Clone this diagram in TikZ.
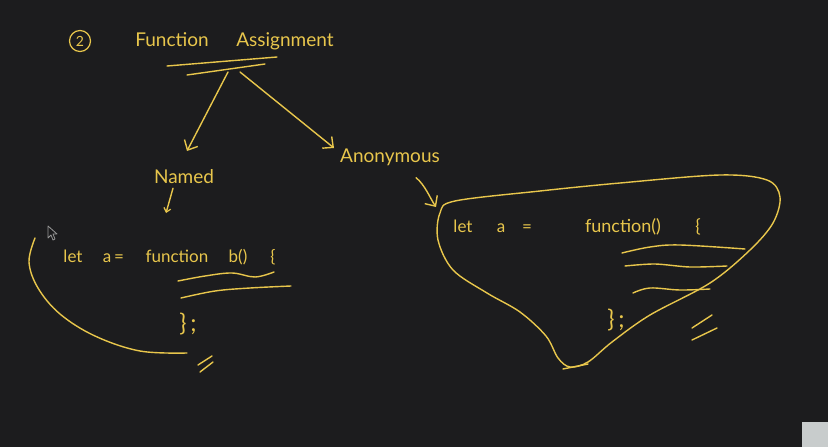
\documentclass[tikz,border=0pt]{standalone}
\usepackage{fontspec}
\setmainfont{Lato}
\usetikzlibrary{arrows.meta}
\definecolor{bg}{RGB}{28,28,30}
\definecolor{ink}{RGB}{232,198,76}
\definecolor{cursorgrey}{RGB}{150,150,150}
\definecolor{boxgrey}{RGB}{200,204,204}
\begin{document}
\begin{tikzpicture}[x=1pt,y=-1pt,
  inkline/.style={draw=ink,line width=1.4pt,line cap=round,line join=round},
  hand/.style={text=ink,inner sep=0pt,font=\fontsize{17}{20}\selectfont},
  big/.style={text=ink,inner sep=0pt,font=\fontsize{19}{22}\selectfont},
  barb/.style={-{Straight Barb[length=8pt,width=15pt,line width=1.4pt]}},
  smallbarb/.style={-{Straight Barb[length=4pt,width=7pt,line width=1.2pt]}}]
\fill[bg] (0,0) rectangle (828,447);
\useasboundingbox (0,0) rectangle (828,447);

% heading
\node[hand,circle,draw=ink,line width=1.2pt,minimum size=21pt,font=\fontsize{14}{15}\selectfont] (num) at (80,41) {2};
\node[big,anchor=base] (fn) at (172,46) {Function};
\node[big,anchor=base] (asg) at (285,46) {Assignment};
\coordinate (ul1a) at (167,66); \coordinate (ul1b) at (277,57);
\coordinate (ul2a) at (187,75); \coordinate (ul2b) at (265,64);
\draw[inkline] (ul1a) -- (ul1b);
\draw[inkline] (ul2a) -- (ul2b);

% branches
\node[big] (named) at (184,177) {Named};
\node[big] (anon) at (390,157) {Anonymous};
\coordinate (split1) at (228,72);
\coordinate (split2) at (240,72);
\coordinate (namedtip) at (187,151);
\coordinate (anontip) at (334,148);
\draw[inkline,barb] (split1) -- (namedtip);
\draw[inkline,barb] (split2) -- (anontip);
\coordinate (namedarrow) at (166,213);
\draw[inkline,smallbarb] (named.south) ++(-11,4) -- (namedarrow);
\coordinate (anonarrow) at (436,207);
\draw[inkline,barb] (anon.south west) ++(76,12) .. controls (425,185) and (430,198) .. (anonarrow);

% left code
\node[hand,anchor=base] (let1) at (73,262) {let};
\node[hand,anchor=base] (a1) at (107,262) {a};
\node[hand,anchor=base] (eq1) at (119,262) {=};
\node[hand,anchor=base] (fun1) at (177,262) {function};
\node[hand,anchor=base] (b1) at (238,262) {b()};
\node[hand,anchor=base] (br1) at (273,262) {\{};
\draw[inkline] plot[smooth,tension=0.6] coordinates {(178,281) (205,276) (232,273) (255,277) (274,272)};
\draw[inkline] plot[smooth,tension=0.6] coordinates {(181,298) (215,291) (250,288) (291,286)};
\node[text=ink,inner sep=0pt,font=\fontsize{24}{26}\selectfont] (end1) at (188,324) {\}\,;};
\draw[inkline] plot[smooth,tension=0.6] coordinates {(35,238) (29,262) (38,288) (60,314) (95,336) (140,351) (187,353)};
\draw[inkline] (198,365) -- (212,356);
\draw[inkline] (200,372) -- (213,362);

% right code
\node[hand,anchor=base] (let2) at (463,232) {let};
\node[hand,anchor=base] (a2) at (501,232) {a};
\node[hand,anchor=base] (eq2) at (527,232) {=};
\node[hand,anchor=base,font=\fontsize{18}{20}\selectfont] (fun2) at (623,232) {function()};
\node[hand,anchor=base,font=\fontsize{18}{20}\selectfont] (br2) at (698,232) {\{};
\draw[inkline] plot[smooth,tension=0.6] coordinates {(622,253) (650,247) (680,245) (745,249)};
\draw[inkline] plot[smooth,tension=0.5] coordinates {(625,266) (655,264) (690,267) (727,266)};
\draw[inkline] plot[smooth,tension=0.6] coordinates {(633,293) (650,288) (680,290) (710,289)};
\node[text=ink,inner sep=0pt,font=\fontsize{24}{26}\selectfont] (end2) at (616,320) {\}\,;};
\draw[inkline] (692,328) -- (712,315);
\draw[inkline] (692,340) -- (717,328);
\draw[inkline] plot[smooth cycle,tension=0.55] coordinates {
  (455,201) (540,191) (620,183) (720,175) (767,180) (780,197) (773,223)
  (750,250) (710,283) (650,315) (612,342) (588,362) (570,367) (558,358)
  (546,336) (520,312) (487,293) (453,270) (438,240) (440,213)};
\draw[inkline] (563,369) -- (588,364);

% cursor and corner box
\draw[cursorgrey,fill=bg,line width=0.8pt,line join=round] (48,226) -- (48,238) -- (51,235) -- (53,240) -- (55,239) -- (53,234) -- (57,234) -- cycle;
\fill[boxgrey] (802,422) rectangle (828,447);
\end{tikzpicture}
\end{document}
